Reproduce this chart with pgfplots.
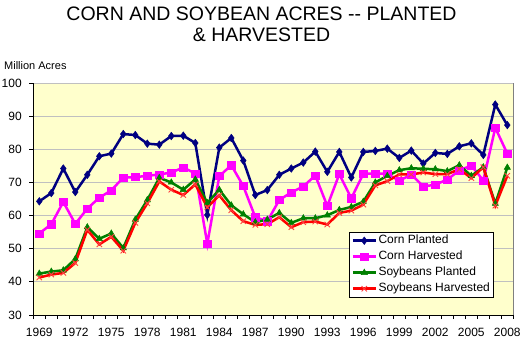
\documentclass[border=0pt]{standalone}
\usepackage{fontspec}
\setmainfont{Liberation Sans}
\usepackage{pgfplots}
\pgfplotsset{compat=1.18}
\usepackage{pgfplotstable}
\definecolor{cpc}{HTML}{000080}
\definecolor{chc}{HTML}{FF00FF}
\definecolor{spc}{HTML}{008000}
\definecolor{shc}{HTML}{FF0000}
\definecolor{bgc}{HTML}{FFFFCC}
\definecolor{gridc}{HTML}{C0C0C0}
\definecolor{framec}{HTML}{808080}
\pgfplotstableread{
year cp ch sp sh
1969 64.3 54.6 42.5 41.3
1970 66.8 57.4 43.1 42.2
1971 74.2 64.1 43.5 42.7
1972 67.1 57.5 46.9 45.7
1973 72.3 62.1 56.5 55.7
1974 77.9 65.4 53.0 51.3
1975 78.7 67.6 54.6 53.6
1976 84.6 71.5 50.2 49.4
1977 84.3 71.6 58.8 57.8
1978 81.7 72.0 64.7 63.7
1979 81.4 72.4 71.4 70.3
1980 84.0 73.0 70.0 67.8
1981 84.1 74.5 67.8 66.2
1982 81.9 72.7 70.9 69.4
1983 60.2 51.5 63.8 62.5
1984 80.5 71.9 67.8 66.1
1985 83.4 75.2 63.1 61.6
1986 76.6 68.9 60.4 58.3
1987 66.2 59.5 58.0 57.2
1988 67.7 58.3 58.8 57.4
1989 72.3 64.7 60.8 59.5
1990 74.2 67.0 57.8 56.5
1991 76.0 68.8 59.2 58.0
1992 79.3 72.1 59.2 58.2
1993 73.2 62.9 60.1 57.3
1994 79.2 72.5 61.7 60.8
1995 71.5 65.2 62.6 61.5
1996 79.2 72.6 64.2 63.3
1997 79.5 72.7 70.0 69.1
1998 80.2 72.6 72.0 70.4
1999 77.4 70.5 73.7 72.4
2000 79.6 72.4 74.3 72.4
2001 75.7 68.8 74.1 73.0
2002 78.9 69.3 74.0 72.5
2003 78.6 70.9 73.4 72.5
2004 80.9 73.6 75.2 74.0
2005 81.8 75.1 72.0 71.3
2006 78.3 70.6 74.6 74.6
2007 93.5 86.5 63.6 63.0
2008 87.3 78.7 74.5 72.0
}\data
\begin{document}
\begin{tikzpicture}[x=1pt,y=1pt]
\path[use as bounding box] (0,0) rectangle (522,341);
\node[anchor=base, inner sep=0pt, font=\fontsize{19.5}{20}\selectfont] at (261.5,320.3) {CORN AND SOYBEAN ACRES -{}- PLANTED};
\node[anchor=base, inner sep=0pt, font=\fontsize{19.5}{20}\selectfont] at (261.5,299.3) {\& HARVESTED};
\node[anchor=base west, inner sep=0pt, font=\fontsize{11}{11}\selectfont] at (4,272) {Million Acres};
\begin{axis}[
  at={(33.3pt,26pt)}, anchor=south west,
  scale only axis, width=480pt, height=232pt,
  xmin=1968.5, xmax=2008.5, ymin=30, ymax=100,
  axis x line=bottom, axis y line=left,
  axis line style={black, -, line width=0.8pt},
  axis background/.style={fill=bgc, draw=framec, line width=0.8pt},
  ytick={30,40,...,100},
  ymajorgrids, grid style={color=gridc, line width=0.8pt},
  xtick={1968.5,1969.5,...,2008.6},
  xticklabels={1969,,,1972,,,1975,,,1978,,,1981,,,1984,,,1987,,,1990,,,1993,,,1996,,,1999,,,2002,,,2005,,,2008,},
  xticklabel style={xshift=6pt, yshift=-5.5pt},
  yticklabel style={xshift=-4pt},
  tick align=outside, major tick length=4pt,
  tick style={black, line width=0.8pt},
  tick label style={font=\fontsize{12}{12}\selectfont},
  /pgf/number format/assume math mode=true,
  legend style={at={(axis description cs:0.658,0.076)}, anchor=south west,
    draw=black, fill=white, line width=0.8pt, font=\fontsize{12}{12}\selectfont,
    inner xsep=2pt, inner ysep=1pt, row sep=1.5pt,
    nodes={inner sep=1.5pt, text height=9pt, text depth=2.5pt}},
  legend cell align=left,
  legend image code/.code={\draw[mark repeat=2,mark phase=2] plot coordinates {(0pt,0pt) (11.5pt,0pt) (23pt,0pt)};},
]
\addplot[color=cpc, line width=2.5pt, mark=diamond*, mark size=3.8pt, mark options={line width=0.5pt}] table[x=year,y=cp] {\data};
\addlegendentry{Corn Planted}
\addplot[color=chc, line width=2.5pt, mark=square*, mark size=3.6pt, mark options={line width=0.5pt}] table[x=year,y=ch] {\data};
\addlegendentry{Corn Harvested}
\addplot[color=spc, line width=2.5pt, mark=triangle*, mark size=3.6pt, mark options={line width=0.5pt}] table[x=year,y=sp] {\data};
\addlegendentry{Soybeans Planted}
\addplot[color=shc, line width=2.5pt, mark=x, mark size=3.8pt, mark options={line width=0.9pt, color=shc!75}] table[x=year,y=sh] {\data};
\addlegendentry{Soybeans Harvested}
\end{axis}
\end{tikzpicture}
\end{document}
